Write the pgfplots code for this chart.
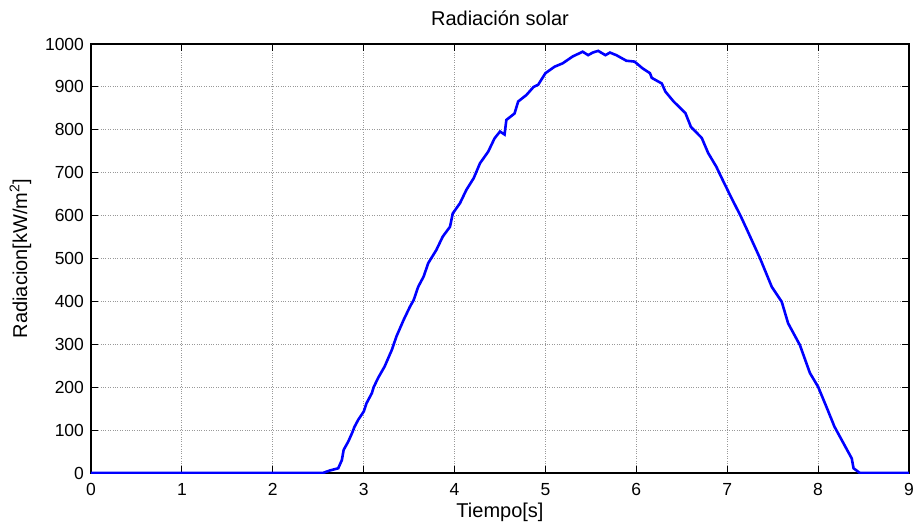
\documentclass[border=0pt]{standalone}
\usepackage{fontspec}
\setmainfont{Liberation Sans}
\usepackage{pgfplots}
\pgfplotsset{compat=1.18}
\begin{document}
\fontsize{17.5}{20}\selectfont
\begin{tikzpicture}
\begin{axis}[
  scale only axis,
  width=818pt, height=429pt,
  xmin=0, xmax=9, ymin=0, ymax=1000,
  xtick={0,1,...,9}, ytick={0,100,...,1000},
  /pgf/number format/assume math mode=true,
  /pgf/number format/1000 sep={},
  tick align=inside,
  major tick length=7pt,
  tick style={black, line width=0.8pt},
  axis line style={black, line width=1.1pt},
  grid=major,
  major grid style={gray!80, dotted, line width=0.8pt},
  ticklabel style={font=\fontsize{17.5}{20}\selectfont},
  xticklabel style={yshift=-4pt},
  yticklabel style={xshift=-1pt},
  title={Radiación solar},
  title style={font=\fontsize{20}{23}\selectfont, yshift=6pt},
  xlabel={Tiempo[s]},
  xlabel style={font=\fontsize{20}{23}\selectfont, yshift=4pt},
  ylabel={Radiacion[kW/m\textsuperscript{2}]},
  ylabel style={font=\fontsize{20}{23}\selectfont, yshift=2pt},
]
\addplot[blue, line width=2.6pt] coordinates {
(0,0) (2.55,0) (2.63,6) (2.72,11) (2.76,30) (2.78,54) (2.83,73) (2.87,92)
(2.90,108) (2.94,124) (3.00,143) (3.03,162) (3.09,186) (3.11,200) (3.16,222)
(3.23,248) (3.31,287) (3.36,318) (3.44,357) (3.51,388) (3.55,403) (3.60,434)
(3.66,458) (3.71,489) (3.80,520) (3.87,551) (3.95,574) (3.98,605) (4.06,629)
(4.13,660) (4.21,687) (4.28,722) (4.37,749) (4.44,780) (4.50,796) (4.55,789)
(4.57,823) (4.66,838) (4.70,866) (4.79,881) (4.87,900) (4.92,905) (5.00,932)
(5.10,947) (5.19,955) (5.30,971) (5.41,982) (5.47,974) (5.52,980) (5.58,984)
(5.66,974) (5.71,980) (5.78,974) (5.89,961) (5.98,959) (6.07,943) (6.15,932)
(6.17,921) (6.28,908) (6.32,889) (6.41,866) (6.54,839) (6.60,807) (6.72,781)
(6.79,746) (6.88,714) (6.95,683) (7.04,644) (7.15,598) (7.22,566) (7.36,501)
(7.49,434) (7.60,399) (7.67,349) (7.80,298) (7.91,233) (8.00,201) (8.09,155)
(8.18,108) (8.28,69) (8.37,34) (8.39,11) (8.46,0) (9,0)
};
\end{axis}
\pgfresetboundingbox
\path[use as bounding box] (current axis.south west) ++(-91pt,-52pt) rectangle ++(915pt,525pt);
\end{tikzpicture}
\end{document}
